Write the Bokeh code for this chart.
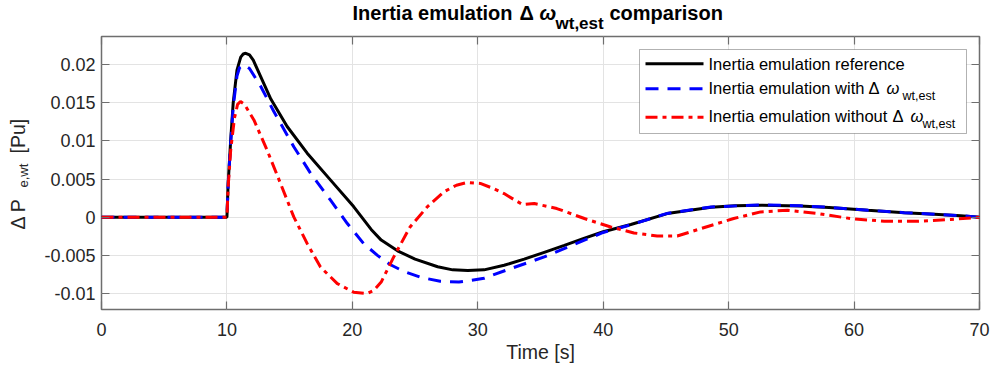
import math
from bokeh.plotting import figure
from bokeh.models import (Range1d, LinearAxis, FixedTicker, NumeralTickFormatter,
                          Label, BoxAnnotation)
from bokeh.layouts import column, row
from bokeh.embed import file_html
from bokeh.resources import INLINE

# ---------------- data ----------------
t_ref = [0, 10, 10.1, 10.3, 10.5, 10.8, 11.1, 11.3, 11.5, 11.8, 12.1, 12.7, 13.5, 14.8, 16.4,
         18.3, 20.1, 21.5, 22.3, 23.6, 25.0, 26.8, 28.0, 29.2, 30.5, 32.1, 33.7, 35.3, 36.9,
         38.4, 40.0, 42.2, 45.1, 48.6, 50.5, 52.6, 55.7, 58.0, 61.1, 64.0, 66.4, 68.5, 70]
v_ref = [0, 0, 0.0045, 0.0101, 0.0150, 0.0193, 0.0210, 0.0214, 0.0215, 0.0213, 0.0206,
         0.0184, 0.0155, 0.0119, 0.0084, 0.0048, 0.0014, -0.0016, -0.0030, -0.0044, -0.0055,
         -0.0065, -0.0069, -0.0070, -0.0069, -0.0063, -0.0055, -0.0046, -0.0037, -0.0028,
         -0.0019, -0.00095, 0.00048, 0.00130, 0.00150, 0.00158, 0.00148, 0.00128, 0.00092,
         0.00060, 0.00040, 0.00020, 0]

t_with = [0, 10, 10.1, 10.3, 10.5, 10.8, 11.0, 11.35, 11.8, 12.7, 13.74, 15.33, 16.67,
          18.26, 19.6, 20.9, 22.0, 23.0, 24.1, 25.5, 27.0, 28.5, 29.4, 30.5, 32.6, 35.3,
          38.5, 40.0, 42.2, 45.1, 48.6, 52.6, 55.7, 58.0, 61.1, 64.0, 66.4, 68.5, 70]
v_with = [0, 0, 0.0043, 0.0098, 0.0145, 0.0185, 0.0196, 0.0200, 0.0195, 0.01715, 0.01386,
          0.00925, 0.00575, 0.00224, -0.00083, -0.00346, -0.0050, -0.0062, -0.0071, -0.0079,
          -0.0084, -0.0085, -0.0083, -0.0080, -0.00675, -0.0052, -0.0030, -0.0020, -0.0010,
          0.00050, 0.00135, 0.00162, 0.00150, 0.00130, 0.00092, 0.00060, 0.00040, 0.00020, 0]

t_without = [0, 10, 10.1, 10.3, 10.6, 10.85, 11.08, 11.4, 12.15, 13.2, 14.27, 15.33, 16.4,
             17.46, 18.8, 20.1, 21.2, 21.7, 22.3, 23.3, 24.6, 25.97, 27.3, 28.3, 29.16, 30.2,
             31.2, 32.1, 33.0, 33.6, 34.5, 36.3, 38.5, 40.6, 42.45, 44.3, 45.9, 47.8, 50.4,
             52.55, 54.7, 57.1, 59.7, 62.4, 65.0, 67.7, 70]
v_without = [0, 0, 0.0040, 0.0088, 0.0130, 0.0148, 0.01517, 0.0148, 0.01276, 0.0088, 0.00443,
             0.00004, -0.00346, -0.00654, -0.0087, -0.00983, -0.0100, -0.0096, -0.0085,
             -0.0052, -0.00128, 0.00136, 0.00333, 0.0042, 0.00456, 0.00443, 0.0038, 0.0031,
             0.0022, 0.00165, 0.0018, 0.00114, -0.00017, -0.00128, -0.00206, -0.00246,
             -0.00246, -0.00149, -0.00017, 0.0007, 0.00092, 0.00048, -0.00017, -0.00053,
             -0.00053, -0.0003, 0]

x_ticks = [0, 10, 20, 30, 40, 50, 60, 70]
y_ticks = [-0.01, -0.005, 0, 0.005, 0.01, 0.015, 0.02]

# ---------------- layout ----------------
W, H = 994, 372
TITLE_H = 32          # height of the title strip
YLAB_W = 34           # width of the y-label strip
FL, FR, FT, FB = 101, 979, 36, 309   # frame in page pixels
X0, X1 = 0, 70
Y0, Y1 = -0.0121, 0.0237

FONT = "Liberation Sans"
AXC = "#262626"
FRAME = "#6e6e6e"


def px2x(px):
    return X0 + (px - FL) / (FR - FL) * (X1 - X0)


def py2y(py):
    return Y1 - (py - FT) / (FB - FT) * (Y1 - Y0)


def blank_fig(w, h, xr, yr):
    f = figure(frame_width=w, frame_height=h, title=None,
               x_range=Range1d(*xr), y_range=Range1d(*yr),
               output_backend="svg", toolbar_location=None,
               min_border=0, min_border_left=0, min_border_right=0,
               min_border_top=0, min_border_bottom=0,
               x_axis_location=None, y_axis_location=None)
    f.outline_line_color = None
    f.grid.visible = False
    f.background_fill_color = "white"
    f.border_fill_color = "white"
    return f


def lab(fig, x, y, text, size, style="normal", color="black", angle=0.0):
    fig.add_layout(Label(x=x, y=y, text=text, text_font=FONT,
                         text_font_size=f"{size}px", text_font_style=style,
                         text_color=color, text_align="left", text_baseline="middle",
                         angle=angle))


# ---- title strip (coordinates are page pixels) ----
tf = blank_fig(W, TITLE_H, (0, W), (TITLE_H, 0))
lab(tf, 352, 12, "Inertia emulation", 20, "bold")
lab(tf, 519, 12, "Δ", 20, "bold")
lab(tf, 539, 12, "ω", 20, "bold italic")
lab(tf, 555, 22.5, "wt,est", 17, "bold")
lab(tf, 609, 12, "comparison", 20, "bold")

# ---- y-label strip (coordinates are page pixels) ----
yf = blank_fig(YLAB_W, H - TITLE_H, (0, YLAB_W), (H, TITLE_H))
lab(yf, 17, 225, "Δ P", 19.5, color=AXC, angle=math.pi / 2)
lab(yf, 23, 183, "e,wt", 13, color=AXC, angle=math.pi / 2)
lab(yf, 17, 149, "[Pu]", 19.5, color=AXC, angle=math.pi / 2)

# ---- main plot ----
p = figure(width=W - YLAB_W, height=H - TITLE_H, title=None,
           x_range=Range1d(X0, X1), y_range=Range1d(Y0, Y1),
           output_backend="svg", toolbar_location=None,
           min_border_left=FL - YLAB_W, min_border_right=W - FR,
           min_border_top=FT - TITLE_H, min_border_bottom=H - FB,
           x_axis_location=None, y_axis_location=None)
p.outline_line_color = FRAME
p.outline_line_width = 1.5
p.background_fill_color = "white"
p.border_fill_color = "white"


def make_axis(ticks, fmt=None, labels=True):
    ax = LinearAxis(ticker=FixedTicker(ticks=ticks))
    if fmt is not None:
        ax.formatter = fmt
    ax.axis_line_color = None
    ax.major_tick_line_color = FRAME
    ax.major_tick_line_width = 1.2
    ax.major_tick_in = 8
    ax.major_tick_out = 0
    ax.minor_tick_line_color = None
    ax.major_label_text_font = FONT
    ax.major_label_text_font_size = "18px" if labels else "0px"
    ax.major_label_text_color = AXC
    if not labels:
        ax.major_label_standoff = 0
    return ax


xb = make_axis(x_ticks)
xb.major_label_standoff = 13
xb.axis_label = "Time [s]"
xb.axis_label_text_font = FONT
xb.axis_label_text_font_size = "19.5px"
xb.axis_label_text_font_style = "normal"
xb.axis_label_text_color = AXC
xb.axis_label_standoff = 2
p.add_layout(xb, "below")

yl = make_axis(y_ticks, NumeralTickFormatter(format="0.[000]"))
yl.major_label_standoff = 6
p.add_layout(yl, "left")

p.add_layout(make_axis(x_ticks, labels=False), "above")
p.add_layout(make_axis(y_ticks, labels=False), "right")

p.xgrid.ticker = FixedTicker(ticks=x_ticks)
p.ygrid.ticker = FixedTicker(ticks=y_ticks)
p.grid.grid_line_color = "#e3e3e3"
p.grid.grid_line_width = 1

# legend box (underlay, drawn after grid)
p.add_layout(BoxAnnotation(left=px2x(639), right=px2x(966), top=py2y(49), bottom=py2y(133),
                           fill_color="white", fill_alpha=1.0, line_color="black",
                           line_width=1, level="underlay"))

LW = 3
p.line(t_ref, v_ref, line_color="black", line_width=LW)
p.line(t_with, v_with, line_color="#0000ff", line_width=LW, line_dash="13 9")
p.line(t_without, v_without, line_color="#ff0000", line_width=LW, line_dash="12 5 4 5")

# legend samples and texts
rows = [63.3, 88.3, 116.7]
p.line([px2x(645), px2x(703)], [py2y(rows[0])] * 2, line_color="black", line_width=LW)
p.line([px2x(645), px2x(703)], [py2y(rows[1])] * 2, line_color="#0000ff", line_width=LW,
       line_dash="13 9")
p.line([px2x(645), px2x(703)], [py2y(rows[2])] * 2, line_color="#ff0000", line_width=LW,
       line_dash="12 5 4 5")

LF = 16.5
lab(p, px2x(708), py2y(63.5), "Inertia emulation reference", LF)
lab(p, px2x(708), py2y(87), "Inertia emulation with", LF)
lab(p, px2x(868), py2y(87), "Δ", LF)
lab(p, px2x(886), py2y(87), "ω", LF, "italic")
lab(p, px2x(902), py2y(95), "wt,est", 12.5)
lab(p, px2x(708), py2y(115), "Inertia emulation without", LF)
lab(p, px2x(892), py2y(115), "Δ", LF)
lab(p, px2x(910), py2y(115), "ω", LF, "italic")
lab(p, px2x(922), py2y(123), "wt,est", 12.5)

layout = column(tf, row(yf, p, spacing=0), spacing=0)

open("out.html", "w").write(file_html(layout, INLINE))
